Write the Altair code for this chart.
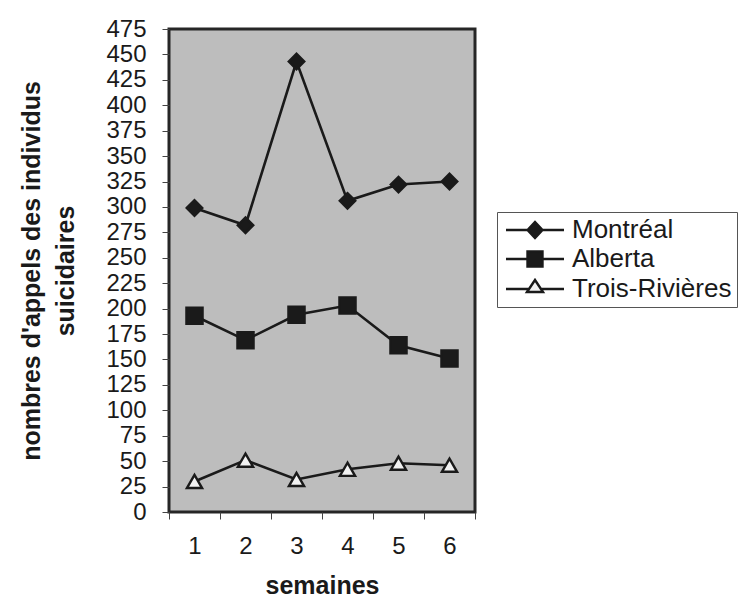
import altair as alt
import pandas as pd

weeks = [1, 2, 3, 4, 5, 6]
series_names = ["Montréal", "Alberta", "Trois-Rivières"]
montreal = [299, 282, 443, 306, 322, 325]
alberta = [193, 169, 194, 203, 164, 151]
trois_rivieres = [30, 51, 32, 42, 48, 46]
y_ticks = list(range(0, 476, 25))

rows = []
for name, vals in zip(series_names, [montreal, alberta, trois_rivieres]):
    for w, v in zip(weeks, vals):
        rows.append({"semaine": w, "valeur": v, "serie": name})
df = pd.DataFrame(rows)

FONT = "Liberation Sans"
INK = "#1a1a1a"
LIGHT = "#f2f2f2"

x_enc = alt.X(
    "semaine:O",
    scale=alt.Scale(paddingInner=0, paddingOuter=0),
    axis=alt.Axis(
        title="semaines",
        labelAngle=0,
        tickBand="extent",
        domain=False,
        tickSize=7,
        tickColor="#444",
        labelFontSize=24,
        labelColor=INK,
        labelPadding=15,
        titleFontSize=25,
        titleFontWeight="bold",
        titleColor=INK,
        titlePadding=15,
    ),
)
y_enc = alt.Y(
    "valeur:Q",
    scale=alt.Scale(domain=[0, 475], nice=False, zero=True),
    axis=alt.Axis(
        values=y_ticks,
        grid=False,
        domain=False,
        tickSize=7,
        tickColor="#444",
        labelFontSize=24,
        labelColor=INK,
        labelPadding=16,
        title=["nombres d'appels des individus", "suicidaires"],
        titleFontSize=25,
        titleFontWeight="bold",
        titleColor=INK,
        titleLineHeight=34,
        titlePadding=27,
    ),
)

lines = alt.Chart(df).mark_line(color=INK, strokeWidth=2.6).encode(
    x=x_enc, y=y_enc, detail="serie:N"
)

marker_specs = [
    ("Montréal", "diamond", INK, 240),
    ("Alberta", "square", INK, 260),
    ("Trois-Rivières", "triangle-up", LIGHT, 230),
]
point_layers = []
for name, shp, fll, sz in marker_specs:
    point_layers.append(
        alt.Chart(df)
        .transform_filter(alt.datum.serie == name)
        .mark_point(shape=shp, fill=fll, filled=True, stroke=INK, strokeWidth=2.4,
                    size=sz, opacity=1)
        .encode(x=x_enc, y=y_enc)
    )

legend_paths = [
    "M-2.9,0H-0.75M0.75,0H2.9M-0.75,0L0,-0.8L0.75,0L0,0.8Z",
    "M-2.9,0H-0.75M0.75,0H2.9M-0.75,-0.75H0.75V0.75H-0.75Z",
    "M-2.9,0H-0.6M0.6,0H2.9M-0.8,0.3L0,-0.9L0.8,0.3Z",
]

legend_layer = alt.Chart(df).mark_point(
    opacity=0, strokeWidth=2.4, filled=False
).encode(
    x=x_enc,
    y=y_enc,
    shape=alt.Shape(
        "serie:N",
        scale=alt.Scale(domain=series_names, range=legend_paths),
        legend=alt.Legend(title=None),
    ),
    fill=alt.Fill(
        "serie:N",
        scale=alt.Scale(domain=series_names, range=[INK, INK, LIGHT]),
        legend=alt.Legend(title=None),
    ),
    stroke=alt.Stroke(
        "serie:N",
        scale=alt.Scale(domain=series_names, range=[INK, INK, INK]),
        legend=alt.Legend(title=None),
    ),
)

chart = (
    alt.layer(lines, *point_layers, legend_layer)
    .properties(
        width=306,
        height=483,
        autosize=alt.AutoSizeParams(type="none"),
        padding={"left": 169, "top": 29, "right": 270, "bottom": 88},
        background="white",
    )
    .configure(font=FONT)
    .configure_view(fill="#bdbdbd", stroke="#262626", strokeWidth=3)
    .configure_legend(
        orient="none",
        legendX=328,
        legendY=183,
        strokeColor="#555",
        fillColor="white",
        padding=5,
        labelFontSize=26,
        labelColor=INK,
        labelFont=FONT,
        labelOffset=24,
        symbolSize=400,
        symbolOpacity=1,
        symbolStrokeColor=INK,
        symbolStrokeWidth=2.4,
        rowPadding=3,
        symbolOffset=20,
    )
)

chart.save("out.html", embed_options={"renderer": "svg", "actions": False})
